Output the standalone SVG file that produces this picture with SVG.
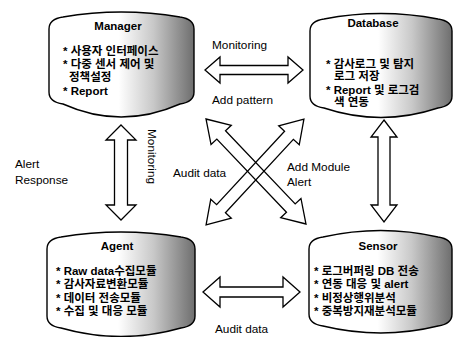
<svg xmlns="http://www.w3.org/2000/svg" width="455" height="337" viewBox="0 0 455 337">
<defs>
<linearGradient id="shade" x1="0" y1="0" x2="1" y2="0">
<stop offset="0" stop-color="#ffffff"/>
<stop offset="0.48" stop-color="#ffffff"/>
<stop offset="0.72" stop-color="#c8c8c8"/>
<stop offset="1" stop-color="#6e6e6e"/>
</linearGradient>
<style>
.cyl{fill:url(#shade);stroke:#000;stroke-width:1.4}
.arr{fill:none;stroke:#000;stroke-width:1.3;stroke-linejoin:miter}
.lbl{font-family:"Liberation Sans","Noto Sans CJK KR",sans-serif;font-size:11.8px;fill:#000}
.ttl{font-family:"Liberation Sans","Noto Sans CJK KR",sans-serif;font-size:11.5px;font-weight:bold;fill:#000;text-anchor:middle}
.bul{font-family:"Liberation Sans","Noto Sans CJK KR",sans-serif;font-size:11.5px;font-weight:bold;fill:#000}
</style>
</defs>
<rect width="455" height="337" fill="#fff"/>

<g id="connectors">
<polygon class="arr" points="205,70 220,57 220,65.5 288,65.5 288,57 303,70 288,83 288,74.5 220,74.5 220,83"/>
<polygon class="arr" points="203,292 220,277 220,287 283,287 283,277 300,292 283,307 283,297 220,297 220,307"/>
<polygon class="arr" points="121,125 136,140 127.5,140 127.5,205 136,205 121,220 106,205 114.5,205 114.5,140 106,140"/>
<polygon class="arr" points="384,120 397,137 390,137 390,205 397,205 384,222 371,205 378,205 378,137 371,137"/>
<polygon class="arr" transform="translate(256,171.5) rotate(46.4)" points="-72.5,0 -50.5,-14 -50.5,-6 50.5,-6 50.5,-14 72.5,0 50.5,14 50.5,6 -50.5,6 -50.5,14"/>
<polygon class="arr" transform="translate(255,172) rotate(132.8)" points="-72,0 -50,-14 -50,-6 50,-6 50,-14 72,0 50,14 50,6 -50,6 -50,14"/>
<text class="lbl" x="212" y="49">Monitoring</text>
<text class="lbl" x="212" y="104">Add pattern</text>
<text class="lbl" x="15" y="168">Alert</text>
<text class="lbl" x="15" y="184">Response</text>
<text class="lbl" transform="translate(148,129) rotate(90)">Monitoring</text>
<text class="lbl" x="173" y="177">Audit data</text>
<text class="lbl" x="287" y="171">Add Module</text>
<text class="lbl" x="287" y="186">Alert</text>
<text class="lbl" x="215" y="333">Audit data</text>
</g>

<g id="manager">
<path class="cyl" d="M49,29 Q49,19 63,17 Q121,7 180,17 Q194,19 194,29 L194,92 Q194,102 180,104 Q121,130 63,104 Q49,102 49,92 Z"/>
<text class="ttl" x="118" y="30">Manager</text>
<text class="bul" x="63" y="55">* 사용자 인터페이스</text>
<text class="bul" x="63" y="68">* 다중 센서 제어 및</text>
<text class="bul" x="69" y="81">정책설정</text>
<text class="bul" x="63" y="95">* Report</text>
</g>

<g id="database">
<path class="cyl" d="M310,31 Q310,21 324,19 Q381,8 438,19 Q452,21 452,31 L452,96 Q452,106 438,108 Q381,127 324,108 Q310,106 310,96 Z"/>
<text class="ttl" x="373" y="27">Database</text>
<text class="bul" x="326" y="68">* 감사로그 및 탐지</text>
<text class="bul" x="334" y="80">로그 저장</text>
<text class="bul" x="326" y="94">* Report 및 로그검</text>
<text class="bul" x="334" y="106">색 연동</text>
</g>

<g id="agent">
<path class="cyl" d="M47,249 Q47,239 61,237 Q121,227 181,237 Q195,239 195,249 L195,316 Q195,326 181,328 Q121,345 61,328 Q47,326 47,316 Z"/>
<text class="ttl" x="117" y="250">Agent</text>
<text class="bul" x="56" y="275">* Raw data수집모듈</text>
<text class="bul" x="56" y="288">* 감사자료변환모듈</text>
<text class="bul" x="56" y="302">* 데이터 전송모듈</text>
<text class="bul" x="56" y="315">* 수집 및 대응 모듈</text>
</g>

<g id="sensor">
<path class="cyl" d="M309,249 Q309,239 323,237 Q381,224 438,237 Q452,239 452,249 L452,314 Q452,324 438,326 Q381,340 323,326 Q309,324 309,314 Z"/>
<text class="ttl" x="378" y="250">Sensor</text>
<text class="bul" x="314" y="275">* 로그버퍼링 DB 전송</text>
<text class="bul" x="314" y="288">* 연동 대응 및 alert</text>
<text class="bul" x="314" y="302">* 비정상행위분석</text>
<text class="bul" x="314" y="315">* 중복방지재분석모듈</text>
</g>
</svg>
